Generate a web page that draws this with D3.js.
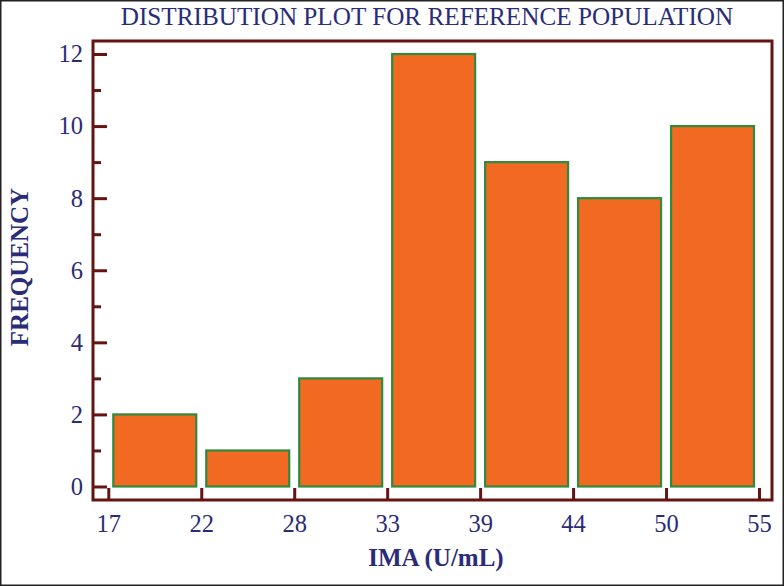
<!DOCTYPE html>
<html>
<head>
<meta charset="utf-8">
<script src="https://cdn.jsdelivr.net/npm/d3@7"></script>
<style>
  html, body { margin: 0; padding: 0; background: #fff; }
  svg { display: block; }
</style>
</head>
<body>
<script>
// ---- data ----
const binEdgeLabels = ["17", "22", "28", "33", "39", "44", "50", "55"];
const frequencies = [2, 1, 3, 12, 9, 8, 10];
const yMajorTicks = [0, 2, 4, 6, 8, 10, 12];
const yMinorTicks = [1, 3, 5, 7, 9, 11];
const titleText = "DISTRIBUTION PLOT FOR REFERENCE POPULATION";
const xLabel = "IMA (U/mL)";
const yLabel = "FREQUENCY";

// ---- layout ----
const W = 784, H = 586;
const frame = { left: 93, right: 772, top: 41, bottom: 500 };
const navy = "#2a2c78", frameCol = "#641411", barFill = "#f26a22", barStroke = "#2f8a3e";
const font = "'Liberation Serif', 'Times New Roman', serif";

const svg = d3.select("body").append("svg").attr("width", W).attr("height", H);

// outer picture border
svg.append("rect").attr("x", 0.75).attr("y", 0.75).attr("width", W - 1.5).attr("height", H - 1.5)
  .attr("fill", "#fff").attr("stroke", "#222").attr("stroke-width", 1.5);

const x = d3.scaleLinear().domain([0, binEdgeLabels.length - 1]).range([108.3, 759]);
const y = d3.scaleLinear().domain([0, 12]).range([486.5, 54]);

// bars
svg.append("g").selectAll("rect").data(frequencies).join("rect")
  .attr("x", (d, i) => x(i) + 5)
  .attr("width", (d, i) => x(i + 1) - x(i) - 10)
  .attr("y", d => y(d))
  .attr("height", d => y(0) - y(d))
  .attr("fill", barFill)
  .attr("stroke", barStroke)
  .attr("stroke-width", 2.2);

// frame
svg.append("rect")
  .attr("x", frame.left).attr("y", frame.top)
  .attr("width", frame.right - frame.left).attr("height", frame.bottom - frame.top)
  .attr("fill", "none").attr("stroke", frameCol).attr("stroke-width", 3);

// y axis major
const yAxis = svg.append("g").attr("transform", `translate(${frame.left},0)`)
  .call(d3.axisLeft(y).tickValues(yMajorTicks).tickSize(-14).tickPadding(10).tickFormat(d3.format("d")));
yAxis.select(".domain").remove();
yAxis.selectAll(".tick line").attr("stroke", frameCol).attr("stroke-width", 3);
yAxis.selectAll(".tick text").attr("fill", navy).style("font-family", font).style("font-size", "24.5px");

// y axis minor
const yMinor = svg.append("g").attr("transform", `translate(${frame.left},0)`)
  .call(d3.axisLeft(y).tickValues(yMinorTicks).tickSize(-8).tickFormat(""));
yMinor.select(".domain").remove();
yMinor.selectAll(".tick line").attr("stroke", frameCol).attr("stroke-width", 3);

// x axis
const xAxis = svg.append("g").attr("transform", `translate(0,${frame.bottom})`)
  .call(d3.axisBottom(x).tickValues(d3.range(binEdgeLabels.length)).tickSize(-12).tickPadding(15)
    .tickFormat(i => binEdgeLabels[i]));
xAxis.select(".domain").remove();
xAxis.selectAll(".tick line").attr("stroke", frameCol).attr("stroke-width", 3);
xAxis.selectAll(".tick text").attr("fill", navy).style("font-family", font).style("font-size", "24.5px");

// title
svg.append("text").attr("x", 427).attr("y", 25).attr("text-anchor", "middle")
  .attr("fill", navy).style("font-family", font).style("font-size", "25.2px")
  .text(titleText);

// x label
svg.append("text").attr("x", 436).attr("y", 566).attr("text-anchor", "middle")
  .attr("fill", navy).style("font-family", font).style("font-size", "25px").style("font-weight", "bold")
  .text(xLabel);

// y label
svg.append("text").attr("transform", "translate(28,267) rotate(-90)").attr("text-anchor", "middle")
  .attr("fill", navy).style("font-family", font).style("font-size", "25px").style("font-weight", "bold")
  .text(yLabel);
</script>
</body>
</html>
